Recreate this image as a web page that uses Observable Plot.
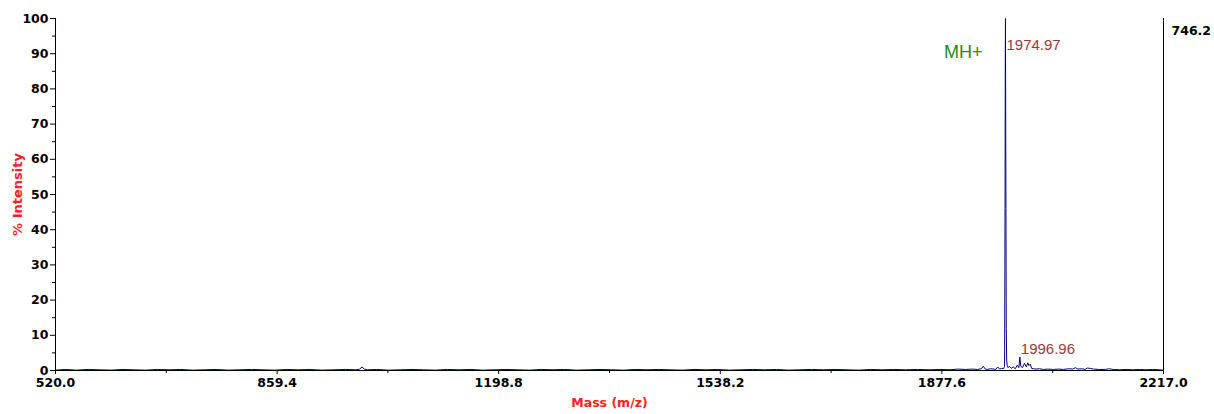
<!DOCTYPE html>
<html>
<head>
<meta charset="utf-8">
<script src="https://cdn.jsdelivr.net/npm/d3@7"></script>
<script src="https://cdn.jsdelivr.net/npm/@observablehq/plot@0.6"></script>
<style>
  html, body { margin: 0; padding: 0; background: #fff; }
  #chart { width: 1214px; height: 414px; }
</style>
</head>
<body>
<div id="chart"></div>
<script>
// ---- data ----
const xTicks = [520.0, 859.4, 1198.8, 1538.2, 1877.6, 2217.0];
const xMinorTicks = [689.7, 1029.1, 1368.5, 1707.9, 2047.3];
const yTicks = [0, 10, 20, 30, 40, 50, 60, 70, 80, 90, 100];
const yMinorTicks = [5, 15, 25, 35, 45, 55, 65, 75, 85, 95];
const maxCounts = "746.2";

// spectrum (m/z, % intensity)
const mz = [
  520, 535, 552, 570, 588, 605, 622, 640, 658, 676, 694, 712, 730, 748, 766,
  784, 802, 820, 838, 856, 874, 892, 910, 928, 946, 964, 980, 986, 989.5, 993, 998,
  1012, 1030, 1048, 1066, 1084, 1102, 1120, 1138, 1156, 1174, 1192, 1210, 1228,
  1246, 1264, 1282, 1300, 1318, 1336, 1354, 1372, 1390, 1408, 1426, 1444, 1462,
  1480, 1498, 1516, 1534, 1552, 1570, 1588, 1606, 1624, 1642, 1660, 1678, 1696,
  1714, 1732, 1750, 1768, 1786, 1804, 1822, 1840, 1858, 1876, 1890, 1902, 1914,
  1924, 1932, 1938, 1941, 1944, 1947, 1952, 1957, 1960, 1963, 1966, 1969, 1972,
  1973.6, 1974.3, 1974.7, 1974.97, 1975.3, 1975.7, 1976.2, 1976.8, 1977.6, 1979,
  1981, 1984, 1987, 1990, 1993, 1995.5, 1996.96, 1998.5, 2001, 2004, 2007, 2009,
  2011, 2013, 2015, 2018, 2022, 2027, 2033, 2040, 2048, 2056, 2064, 2072, 2078,
  2082, 2086, 2092, 2097, 2100, 2105, 2110, 2118, 2128, 2133, 2140, 2150, 2160,
  2170, 2180, 2190, 2200, 2210, 2217
];
const intensity = [
  0.1, 0.3, 0.1, 0.3, 0.2, 0.1, 0.3, 0.2, 0.1, 0.3, 0.2, 0.3, 0.1, 0.2, 0.3,
  0.1, 0.2, 0.3, 0.2, 0.1, 0.3, 0.2, 0.3, 0.1, 0.2, 0.3, 0.2, 0.4, 1.0, 0.4, 0.2,
  0.3, 0.1, 0.2, 0.3, 0.2, 0.1, 0.3, 0.2, 0.3, 0.1, 0.2, 0.3, 0.2,
  0.1, 0.3, 0.2, 0.3, 0.1, 0.2, 0.3, 0.2, 0.1, 0.3, 0.2, 0.3, 0.2,
  0.1, 0.3, 0.2, 0.3, 0.1, 0.2, 0.3, 0.2, 0.3, 0.1, 0.2, 0.3, 0.2,
  0.3, 0.2, 0.1, 0.3, 0.2, 0.3, 0.2, 0.3, 0.2, 0.3, 0.2, 0.4, 0.3,
  0.4, 0.3, 0.5, 1.2, 0.4, 0.3, 0.5, 0.4, 0.3, 1.0, 0.4, 0.6, 0.5,
  1.2, 46, 90, 100, 72, 46, 12, 3, 1.5, 0.8,
  1.2, 0.6, 1.0, 0.5, 1.5, 0.8, 3.8, 1.2, 0.8, 2.0, 1.0, 2.2,
  1.4, 1.8, 0.6, 0.5, 0.4, 0.5, 0.3, 0.4, 0.3, 0.4, 0.3, 0.5, 0.4,
  0.8, 0.4, 0.5, 0.3, 0.7, 0.6, 0.4, 0.3, 0.3, 0.5, 0.3, 0.2, 0.3,
  0.2, 0.3, 0.2, 0.3, 0.2, 0.1
];
const peakLabels = [
  {x: 1974.97, y: 92.5, text: "1974.97"},
  {x: 1996.96, y: 6.0,  text: "1996.96"}
];
const ionLabel = {x: 1974.97, y: 90.5, text: "MH+"};

const spectrum = mz.map((m, i) => ({mz: m, i: intensity[i]}));

const font = "'DejaVu Sans', sans-serif";
const annFont = "'Liberation Sans', Arial, sans-serif";

const plot = Plot.plot({
  width: 1214,
  height: 414,
  marginLeft: 55,
  marginRight: 51,
  marginTop: 18,
  marginBottom: 44,
  style: {fontFamily: font, fontSize: "12.5px", background: "#fff", overflow: "visible"},
  x: {domain: [520, 2217]},
  y: {domain: [0, 100]},
  marks: [
    Plot.line(spectrum, {x: "mz", y: "i", stroke: "#00008b", strokeWidth: 1}),
    Plot.axisX({ticks: xTicks, tickFormat: d => d.toFixed(1), tickSize: 4, tickPadding: 4,
      fontWeight: "bold", fill: "#000", stroke: "#000", label: null, fontSize: 12.5}),
    Plot.axisX({ticks: xMinorTicks, tickFormat: () => "", tickSize: 3, stroke: "#000", label: null}),
    Plot.axisY({ticks: yTicks, tickSize: 5, tickPadding: 2, fontWeight: "bold", fill: "#000",
      stroke: "#000", label: null, fontSize: 12.5}),
    Plot.axisY({ticks: yMinorTicks, tickFormat: () => "", tickSize: 3, stroke: "#000", label: null}),
    Plot.ruleY([0], {stroke: "#000"}),
    Plot.ruleX([520, 2217], {stroke: "#000"}),
    Plot.text(peakLabels, {x: "x", y: "y", text: "text", textAnchor: "start", dx: 1,
      fill: "#9a3a3a", fontSize: 15, fontFamily: annFont}),
    Plot.text([ionLabel], {x: "x", y: "y", text: "text", textAnchor: "end", dx: -23,
      fill: "#1e8c1e", fontSize: 18, fontFamily: annFont}),
    Plot.text([maxCounts], {frameAnchor: "top-right", text: d => d, textAnchor: "start",
      dx: 8, dy: 8, fontWeight: "bold", fill: "#000", fontSize: 12.5}),
    Plot.text(["% Intensity"], {frameAnchor: "left", text: d => d, rotate: -90, textAnchor: "middle",
      dx: -38, dy: 0, fill: "#ff2020", fontWeight: "bold", fontSize: 13}),
    Plot.text(["Mass (m/z)"], {frameAnchor: "bottom", text: d => d, dy: 36,
      fill: "#ff2020", fontWeight: "bold", fontSize: 12.5})
  ]
});
document.getElementById("chart").appendChild(plot);
</script>
</body>
</html>
